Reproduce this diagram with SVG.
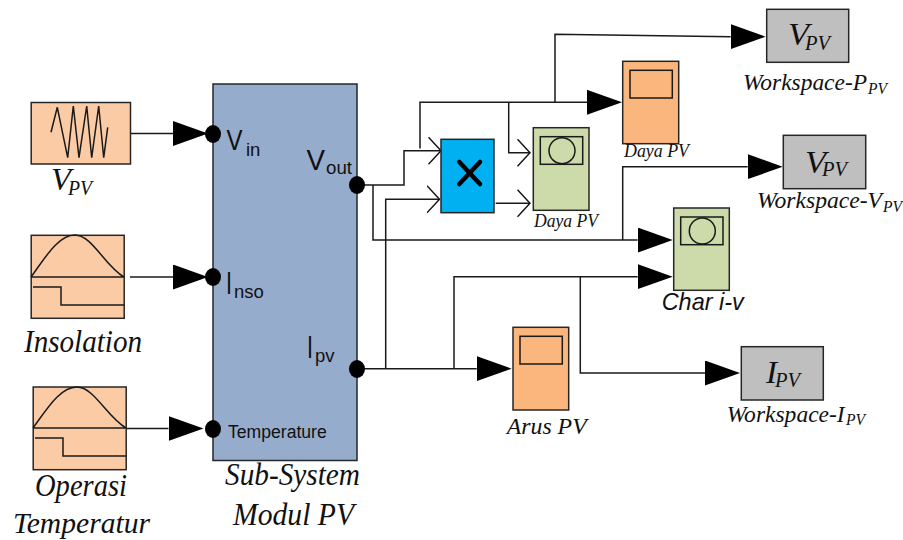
<svg xmlns="http://www.w3.org/2000/svg" width="903" height="540" viewBox="0 0 903 540">
<style>
.b{stroke:#262626;stroke-width:1.5}
.src{fill:#FBCBA6}
.or{fill:#FAB67C}
.gr{fill:#CDDAAA}
.ws{fill:#BFBFBF}
.ln{fill:none;stroke:#1a1a1a;stroke-width:1.5}
.in{fill:none;stroke:#1a1a1a;stroke-width:1.5}
.s{font-family:"Liberation Serif",serif;font-style:italic;fill:#111}
.a{font-family:"Liberation Sans",Arial,sans-serif;fill:#111}
.port{fill:#000}
</style>
<defs>
<marker id="big" markerUnits="userSpaceOnUse" markerWidth="36" markerHeight="26" refX="0" refY="12.5" viewBox="0 0 36 26"><path d="M0,0L35,12.5L0,25Z" fill="#000"/></marker>
<marker id="open" markerUnits="userSpaceOnUse" markerWidth="15" markerHeight="29" refX="13" refY="14" viewBox="0 0 15 29"><path d="M0.5,0.5L13,14L0.5,27.5" fill="none" stroke="#111" stroke-width="1.4"/></marker>
</defs>
<g id="connectors" class="ln">
<path d="M131,133.5H173" marker-end="url(#big)"/>
<path d="M130,277H173" marker-end="url(#big)"/>
<path d="M126,428.5H168.5" marker-end="url(#big)"/>
<path d="M357,185H404V150.7H441" marker-end="url(#open)"/>
<path d="M420,148.5V102.3H587" marker-end="url(#big)"/>
<path d="M508.7,102.3V152.7H530" marker-end="url(#open)"/>
<path d="M555,102.3V34.3L730.7,36.7" marker-end="url(#big)"/>
<path d="M373,185V240H637.7" marker-end="url(#big)"/>
<path d="M622.7,240V166.7H747.7" marker-end="url(#big)"/>
<path d="M357,368.7H476.7" marker-end="url(#big)"/>
<path d="M385.7,368.7V199.3H439.5" marker-end="url(#open)"/>
<path d="M454,368.7V276.7H637.7" marker-end="url(#big)"/>
<path d="M580.3,276.7V373H705" marker-end="url(#big)"/>
<path d="M495.7,203.3H530" marker-end="url(#open)"/>
</g>
<g id="src-vpv">
<rect class="src b" x="31.2" y="102.5" width="99.3" height="61.5"/>
<path class="in" d="M51,132.3L57.3,107.3L67.7,157.7L73.3,106L79,157.7L86.7,106L91.7,157.7L98.7,106L103.7,157.7L107.7,127.3"/>
<text class="s" font-size="31" x="51" y="190" textLength="20" lengthAdjust="spacingAndGlyphs">V</text>
<text class="s" font-size="21" x="68" y="195" textLength="24" lengthAdjust="spacingAndGlyphs">PV</text>
</g>
<g id="src-insolation">
<rect class="src b" x="31.2" y="235.3" width="93" height="83"/>
<path class="in" d="M31,277C45,258 58,235 75,235C92,235 105,266 124,277M31,277H124M33,287H61V305H124"/>
<text class="s" font-size="31" x="24" y="352" textLength="118" lengthAdjust="spacingAndGlyphs">Insolation</text>
</g>
<g id="src-temperature">
<rect class="src b" x="33.2" y="387" width="93" height="82.7"/>
<path class="in" d="M33,428C47,409 60,387 77,387C94,387 107,417 126,428M33,428H126M35,438H63V456H126"/>
<text class="s" font-size="31" x="35" y="496" textLength="92" lengthAdjust="spacingAndGlyphs">Operasi</text>
<text class="s" font-size="30" x="13" y="533" textLength="137" lengthAdjust="spacingAndGlyphs">Temperatur</text>
</g>
<g id="subsystem">
<rect x="213" y="84" width="144" height="376.5" fill="#95ACCD" class="b"/>
<ellipse class="port" cx="213" cy="134" rx="8" ry="9"/>
<ellipse class="port" cx="213" cy="277" rx="8" ry="9"/>
<ellipse class="port" cx="213" cy="429" rx="8" ry="9"/>
<ellipse class="port" cx="357" cy="185" rx="8" ry="9"/>
<ellipse class="port" cx="357" cy="369" rx="8" ry="9"/>
<text class="a" font-size="29" x="226.5" y="150" textLength="16" lengthAdjust="spacingAndGlyphs">V</text>
<text class="a" font-size="18.5" x="246" y="156">in</text>
<text class="a" font-size="31" x="226" y="294" textLength="6" lengthAdjust="spacingAndGlyphs">I</text>
<text class="a" font-size="18.5" x="234" y="297.5">nso</text>
<text class="a" font-size="17.6" x="228" y="437.7">Temperature</text>
<text class="a" font-size="29" x="306.5" y="170" textLength="18.5" lengthAdjust="spacingAndGlyphs">V</text>
<text class="a" font-size="18.7" x="326" y="173.5">out</text>
<text class="a" font-size="31" x="307" y="358" textLength="6" lengthAdjust="spacingAndGlyphs">I</text>
<text class="a" font-size="18.5" x="315" y="362">pv</text>
<text class="s" font-size="31" x="225" y="485" textLength="135" lengthAdjust="spacingAndGlyphs">Sub-System</text>
<text class="s" font-size="31" x="233" y="525" textLength="121" lengthAdjust="spacingAndGlyphs">Modul PV</text>
</g>
<g id="product">
<rect x="441" y="139.3" width="53" height="73.4" fill="#00B0F0" class="b"/>
<path d="M459.3,162L480,184M480,162L459.3,184" stroke="#000" stroke-width="4.5" stroke-linecap="round" fill="none"/>
</g>
<g id="scope-daya-green">
<rect class="gr b" x="533.3" y="127.7" width="55.7" height="82.6"/>
<rect class="in" x="540.3" y="136.7" width="42.4" height="27.6"/>
<circle class="in" cx="562" cy="150.7" r="13"/>
<text class="s" font-size="18" x="534" y="226.7" textLength="64" lengthAdjust="spacingAndGlyphs">Daya PV</text>
</g>
<g id="scope-daya-orange">
<rect class="or b" x="622.7" y="61.3" width="56" height="82.4"/>
<rect class="in" x="630" y="70.3" width="42.3" height="27.7"/>
<text class="s" font-size="18" x="624" y="157" textLength="65" lengthAdjust="spacingAndGlyphs">Daya PV</text>
</g>
<g id="scope-char">
<rect class="gr b" x="673.7" y="208" width="55.6" height="82.3"/>
<rect class="in" x="680.7" y="217" width="42.3" height="27.7"/>
<circle class="in" cx="702.3" cy="231" r="13"/>
<text class="a" font-size="24" font-style="italic" x="661.7" y="310" textLength="82" lengthAdjust="spacingAndGlyphs">Char i-v</text>
</g>
<g id="scope-arus">
<rect class="or b" x="513" y="327.3" width="55.7" height="82.7"/>
<rect class="in" x="520" y="336.3" width="42.3" height="27.7"/>
<text class="s" font-size="24" x="506.7" y="434" textLength="80" lengthAdjust="spacingAndGlyphs">Arus PV</text>
</g>
<g id="ws-p">
<rect class="ws b" x="766.7" y="9.3" width="82" height="53"/>
<text class="s" font-size="32" x="788" y="45" textLength="21" lengthAdjust="spacingAndGlyphs">V</text>
<text class="s" font-size="21" x="805" y="49.5" textLength="25" lengthAdjust="spacingAndGlyphs">PV</text>
<text class="s" font-size="24" x="743" y="90" textLength="124" lengthAdjust="spacingAndGlyphs">Workspace-P</text>
<text class="s" font-size="16" x="868" y="93.5" textLength="19" lengthAdjust="spacingAndGlyphs">PV</text>
</g>
<g id="ws-v">
<rect class="ws b" x="783.3" y="135.3" width="82.4" height="53.4"/>
<text class="s" font-size="32" x="805" y="173" textLength="21" lengthAdjust="spacingAndGlyphs">V</text>
<text class="s" font-size="21" x="822" y="176" textLength="25" lengthAdjust="spacingAndGlyphs">PV</text>
<text class="s" font-size="24" x="757" y="208" textLength="125" lengthAdjust="spacingAndGlyphs">Workspace-V</text>
<text class="s" font-size="16" x="883" y="212" textLength="19" lengthAdjust="spacingAndGlyphs">PV</text>
</g>
<g id="ws-i">
<rect class="ws b" x="741.3" y="346.7" width="82" height="53.3"/>
<text class="s" font-size="32" x="766" y="383" textLength="11" lengthAdjust="spacingAndGlyphs">I</text>
<text class="s" font-size="21" x="775" y="386.7" textLength="25" lengthAdjust="spacingAndGlyphs">PV</text>
<text class="s" font-size="24" x="726.7" y="421.7" textLength="118" lengthAdjust="spacingAndGlyphs">Workspace-I</text>
<text class="s" font-size="16" x="846" y="425" textLength="19" lengthAdjust="spacingAndGlyphs">PV</text>
</g>
</svg>
